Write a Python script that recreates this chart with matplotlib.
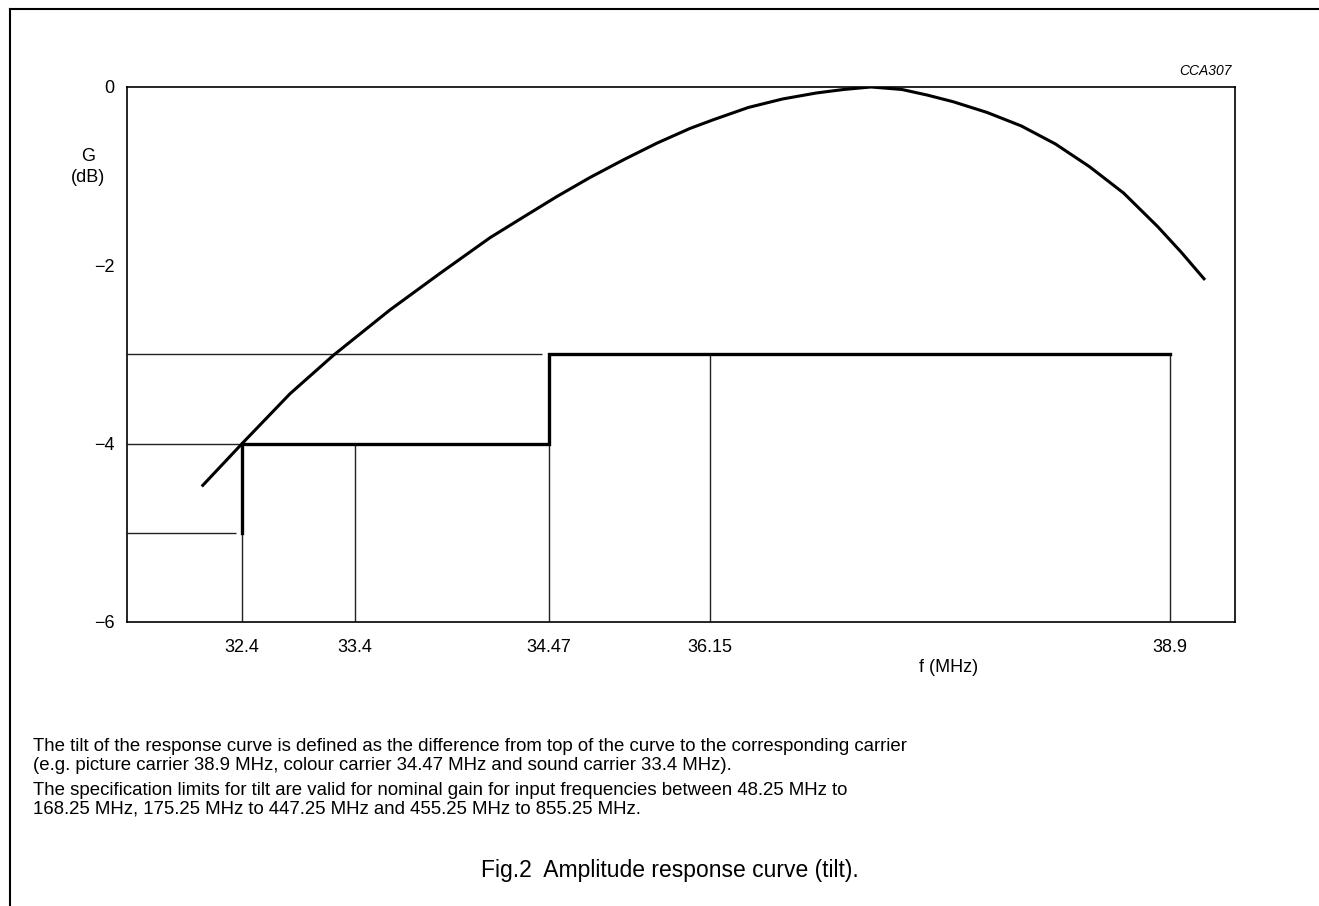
import numpy as np
import matplotlib
matplotlib.use("Agg")
import matplotlib.pyplot as plt
from matplotlib.lines import Line2D

# schematic frequency axis: tick frequencies and where the drawing puts them
tick_freqs = [32.4, 33.4, 34.47, 36.15, 38.9]
tick_labels = ["32.4", "33.4", "34.47", "36.15", "38.9"]
axis_freqs = [31.38, 32.4, 33.4, 34.47, 36.15, 38.9, 39.29]
axis_pos = [0, 115, 228, 422, 583, 1043, 1108]

# response curve (MHz, dB)
curve_f = [32.043, 32.400, 32.825, 33.208, 33.593, 33.869, 34.145, 34.328, 34.550, 34.898,
           35.245, 35.594, 35.941, 36.175, 36.379, 36.583, 36.787, 36.950, 37.113, 37.297,
           37.447, 37.603, 37.807, 38.011, 38.215, 38.419, 38.623, 38.827, 38.966, 39.110]
curve_g = [-4.48, -4.00, -3.44, -3.01, -2.50, -2.09, -1.69, -1.46, -1.23, -1.015,
           -0.818, -0.631, -0.465, -0.364, -0.230, -0.135, -0.067, -0.028, 0.000, -0.028,
           -0.090, -0.165, -0.286, -0.437, -0.639, -0.894, -1.190, -1.567, -1.850, -2.164]

# tilt limits (thick step line)
limit_f = [32.4, 32.4, 34.47, 34.47, 38.9]
limit_g = [-5, -4, -4, -3, -3]

y_ticks = [0, -2, -4, -6]
y_labels = ["0", "\u22122", "\u22124", "\u22126"]

plt.rcParams["font.family"] = ["Liberation Sans", "DejaVu Sans"]


def fwd(f):
    return np.interp(f, axis_freqs, axis_pos)


def inv(p):
    return np.interp(p, axis_pos, axis_freqs)


fig = plt.figure(figsize=(13.19, 9.06), dpi=100)
ax = fig.add_axes([0.0963, 0.3135, 0.8400, 0.5905])
ax.set_xscale("function", functions=(fwd, inv))
ax.set_xlim(axis_freqs[0], axis_freqs[-1])
ax.set_ylim(-6, 0)

thin = dict(color="#222222", lw=1.0, solid_capstyle="butt")
left = axis_freqs[0]
# thin guide lines
ax.plot([left, 34.43], [-3, -3], **thin)
ax.plot([left, 32.4], [-4, -4], **thin)
ax.plot([left, 32.35], [-5, -5], **thin)
ax.plot([32.4, 32.4], [-6, -5], **thin)
ax.plot([33.4, 33.4], [-6, -4], **thin)
ax.plot([34.47, 34.47], [-6, -4], **thin)
ax.plot([36.15, 36.15], [-6, -3], **thin)
ax.plot([38.9, 38.9], [-6, -3], **thin)

ax.plot(limit_f, limit_g, color="black", lw=2.4, solid_joinstyle="miter")
ax.plot(curve_f, curve_g, color="black", lw=2.2, solid_capstyle="butt",
        solid_joinstyle="round")

ax.set_xticks(tick_freqs)
ax.set_xticklabels(tick_labels)
ax.set_yticks(y_ticks)
ax.set_yticklabels(y_labels)
ax.tick_params(length=0, labelsize=13, pad=9)
ax.tick_params(axis="x", pad=12)
ax.xaxis.set_minor_locator(matplotlib.ticker.NullLocator())
for s in ax.spines.values():
    s.set_linewidth(1.2)

fig.text(88 / 1319, 1 - 167 / 906, "G\n(dB)", ha="center", va="center", fontsize=13, linespacing=1.25)
fig.text(0.934, 0.922, "CCA307", ha="right", va="center", fontsize=10, style="italic")
fig.text(949 / 1319, 1 - 667 / 906, "f (MHz)", ha="center", va="center", fontsize=13)

note1 = ("The tilt of the response curve is defined as the difference from top of the curve to the corresponding carrier\n"
         "(e.g. picture carrier 38.9 MHz, colour carrier 34.47 MHz and sound carrier 33.4 MHz).")
note2 = ("The specification limits for tilt are valid for nominal gain for input frequencies between 48.25 MHz to\n"
         "168.25 MHz, 175.25 MHz to 447.25 MHz and 455.25 MHz to 855.25 MHz.")
fig.text(33 / 1319, 1 - 756 / 906, note1, ha="left", va="center", fontsize=13.4, linespacing=1.1)
fig.text(33 / 1319, 1 - 800 / 906, note2, ha="left", va="center", fontsize=13.4, linespacing=1.1)
fig.text(670 / 1319, 1 - 870 / 906, "Fig.2  Amplitude response curve (tilt).", ha="center", va="center", fontsize=16.5)

# page frame
fig.add_artist(Line2D([10 / 1319, 1], [1 - 9 / 906, 1 - 9 / 906], color="black", lw=1.5))
fig.add_artist(Line2D([10 / 1319, 10 / 1319], [0, 1 - 9 / 906], color="black", lw=1.5))

fig.savefig("out.png", dpi=100)
